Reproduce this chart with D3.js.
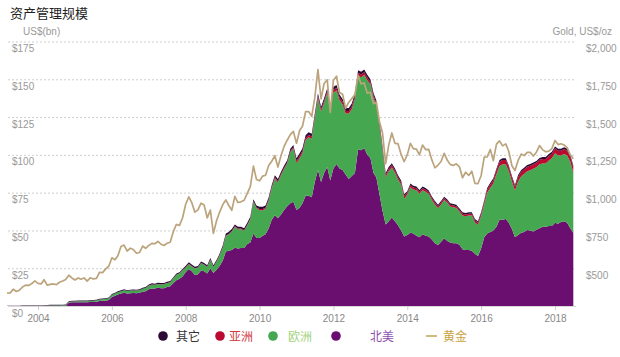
<!DOCTYPE html>
<html><head><meta charset="utf-8">
<script src="https://cdn.jsdelivr.net/npm/d3@7"></script>
<style>body{margin:0;background:#fff;} svg{display:block;font-family:"Liberation Sans",Arial,sans-serif;}</style>
</head><body><svg id="c" width="620" height="357"></svg>
<script>
// Monthly series, Mar 2003 .. Jul 2018 (185 months)
const firstMonth = [2003, 3];
const lastMonth = [2018, 7];

// US$bn, North America
const northAmerica = [
  0,0,0,0,0,0,0,0,0,0,
  0,0,0,0,0,0,0,0,0,0,2.2,2.4,
  2.4,2.5,2.5,2.5,2.4,2.6,2.7,2.8,3.3,3.5,3.5,3.9,
  6.0,6.8,7.6,8.2,8.8,8.3,8.5,8.6,8.5,8.7,9.4,9.8,
  11.0,11.5,11.5,12.0,11.8,11.8,12.5,13.0,15.3,17.0,18.0,19.5,
  22.5,24.5,23.0,20.5,21.0,23.5,23.0,21.5,25.0,21.8,24.0,26.5,
  30,36,36.5,37,38.5,38,38.3,38.3,41,42,48,45,
  45,46.5,47.5,51.4,57,60,58,60.5,63.5,66,68,69,
  63.5,65,67.9,73,73,72,82,90,82,88,92,83,
  91,94,91,90,87,84,86,88,103.5,103,104.5,100,
  98,88,85,74,63,54,56,58.5,56,53.5,50,46,
  47,48.5,48,46.5,45.5,47.5,46.5,46,44,41.5,40.3,42.5,
  44.8,43,42,41.5,41.5,40.5,37.5,37,37,36.5,34.5,33,
  38,45.5,48,49,50,52.5,57,57,57.5,55,51,45.5,
  47,48.5,49,50.3,50,49.3,50.5,51.5,52.5,52.5,53,53,
  55,54.5,55.5,56,55,51.5,48.5
];
// US$bn, Europe
const europe = [
  0,0,0,0,0,0,0,0,0,0,
  0,0,0.1,0.3,0.35,0.4,0.4,0.4,0.45,0.5,0.5,0.55,
  0.6,0.65,0.65,0.7,0.7,0.75,0.8,0.85,0.95,1.0,1.1,1.2,
  1.3,1.4,1.5,1.6,1.7,1.6,1.7,1.7,1.7,1.8,2.0,2.1,
  2.4,2.6,2.4,2.5,2.5,2.6,2.7,2.6,2.9,3.6,3.5,4.0,
  3.0,3.2,3.2,4.3,4.3,4.8,4.3,4.3,5.5,4.0,5.3,6.8,
  8.3,10.3,10.8,12.3,13.8,12.8,12.5,11.5,12.3,15.3,20.9,19.8,
  18.4,16.9,16.7,18.3,20.7,24.2,23.7,26.0,27.2,28.2,33.7,35.2,
  30.9,32.7,33.1,36.7,38.7,38.7,42.1,47.4,46.6,46.1,48.7,45.5,
  50.3,48.5,45.3,43.3,40.3,43.3,44.3,49.0,48.8,48.3,48.3,49.3,
  48.7,49.7,47.7,44.7,40.2,31.2,33.2,33.1,32.2,30.2,30.2,25.2,
  26.6,30.1,29.1,30.1,28.8,29.1,29.1,28.1,26.1,25.6,24.3,24.6,
  25.3,25.3,23.8,23.8,23.3,21.8,22.3,22.3,22.8,23.3,20.8,20.8,
  21.4,21.6,26.9,29.2,31.1,34.9,35.7,36.8,36.3,34.2,31.3,30.9,
  35.4,37.3,38.3,38.8,39.8,41.5,41.3,42.3,41.8,41.8,43.3,44.8,
  46,45,44,44.5,44.5,44,40
];
// US$bn, Asia
const asia = [
  0,0,0,0,0,0,0,0,0,0,
  0,0,0,0,0,0,0,0,0,0,0,0,
  0,0,0,0,0,0,0,0,0,0,0,0,
  0,0,0,0,0,0,0,0,0,0,0,0,
  0.1,0.1,0.1,0.1,0.1,0.1,0.1,0.1,0.1,0.1,0.1,0.1,
  0.2,0.2,0.2,0.2,0.2,0.2,0.2,0.2,0.2,0.2,0.2,0.2,
  0.4,0.4,0.4,0.4,0.4,0.4,0.4,0.4,0.4,0.4,0.4,0.4,
  0.8,0.8,0.8,0.8,0.8,0.8,0.8,0.8,0.8,0.8,0.8,0.8,
  1.5,1.5,1.5,1.5,1.5,1.5,1.5,1.5,1.5,1.5,1.5,1.5,
  1.8,1.8,1.8,1.8,1.8,1.8,1.8,1.8,1.8,1.8,1.8,1.8,
  1.5,1.5,1.5,1.5,1.5,1.5,1.5,1.5,1.5,1.5,1.5,1.5,
  1.3,1.3,1.3,1.3,1.3,1.3,1.3,1.3,1.3,1.3,1.3,1.3,
  1.2,1.2,1.2,1.2,1.2,1.2,1.2,1.2,1.2,1.2,1.2,1.2,
  1.5,1.8,2.0,2.2,2.3,2.5,2.8,2.8,2.8,2.7,2.6,2.5,
  3.0,3.0,3.0,3.0,3.0,3.0,3.0,3.0,3.0,3.0,3.0,3.0,
  3.3,3.3,3.3,3.3,3.3,3.3,3.3
];
// US$bn, Other
const other = [
  0.1,0.15,0.2,0.2,0.2,0.25,0.3,0.3,0.3,0.35,
  0.35,0.35,0.4,0.4,0.4,0.4,0.4,0.4,0.4,0.45,0.45,0.45,
  0.5,0.5,0.5,0.5,0.5,0.5,0.5,0.5,0.5,0.5,0.5,0.5,
  0.6,0.6,0.6,0.6,0.6,0.6,0.6,0.6,0.6,0.6,0.6,0.6,
  0.8,0.8,0.8,0.8,0.8,0.8,0.8,0.8,0.8,0.8,0.8,0.8,
  1.0,1.0,1.0,1.0,1.0,1.0,1.0,1.0,1.0,1.0,1.0,1.0,
  1.3,1.3,1.3,1.3,1.3,1.3,1.3,1.3,1.3,1.3,1.3,1.3,
  1.5,1.5,1.5,1.5,1.5,1.5,1.5,1.5,1.5,1.5,1.5,1.5,
  1.8,1.8,1.8,1.8,1.8,1.8,1.8,1.8,1.8,1.8,1.8,1.8,
  1.9,1.9,1.9,1.9,1.9,1.9,1.9,1.9,1.9,1.9,1.9,1.9,
  1.8,1.8,1.8,1.8,1.3,1.3,1.3,1.3,1.3,1.3,1.3,1.3,
  1.1,1.1,1.1,1.1,1.1,1.1,1.1,1.1,1.1,1.1,1.1,1.1,
  1.0,1.0,1.0,1.0,1.0,1.0,1.0,1.0,1.0,1.0,1.0,1.0,
  1.1,1.1,1.1,1.1,1.1,1.1,1.1,1.1,1.1,1.1,1.1,1.1,
  1.2,1.2,1.2,1.2,1.2,1.2,1.2,1.2,1.2,1.2,1.2,1.2,
  1.2,1.2,1.2,1.2,1.2,1.2,1.2
];
// Gold, US$/oz (month end)
const gold = [
  334.85,336.75,361.4,346,354.75,375.6,388,386.25,398.35,416.25,
  399.75,395.85,423.7,388.5,393.25,395.8,391.4,407.25,415.65,425.55,453.4,435.6,
  422.15,435.45,427.5,435.7,414.45,437.1,429,433.25,473.25,470.75,495.65,513,
  568.75,556,582,644,653,613.5,632.5,623.5,599.25,603.75,646.7,632,
  650.5,664.2,661.75,677,659.1,650.5,665.5,672,743,789.5,783.5,833.75,
  923.25,971.5,933.5,871,885.75,930.25,918,833,884.5,730.75,814.5,869.75,
  919.5,952,916.5,883.25,975.5,934.5,939,949.5,995.75,1040,1175.75,1087.5,
  1078.5,1109.5,1115.5,1179.25,1207.5,1244,1169,1246,1307,1346.75,1383.5,1405.5,
  1327,1411,1439,1535.5,1536.5,1505.5,1628.5,1813.5,1620,1722,1746,1531,
  1744,1770,1662.5,1651.25,1558,1598.5,1622,1648.5,1776,1719,1726,1657.5,
  1664.75,1588.5,1598.25,1469,1394.5,1192,1314.5,1394.75,1326.5,1324,1253,1204.5,
  1251,1326.5,1291.75,1288.5,1250.5,1315,1285.25,1285.75,1216.5,1164.25,1182.75,1206,
  1260.25,1214,1187,1180.25,1190.5,1171,1098.4,1135,1114,1142.35,1061.1,1060.2,
  1111.8,1234.9,1237,1285.65,1212.1,1320.75,1342,1309.25,1322.5,1272,1178.1,1145.9,
  1212.8,1255.6,1244.85,1266.45,1266.2,1242.25,1267.55,1311.75,1283.1,1270.15,1274.25,1291,
  1345.15,1317.85,1323.85,1315.05,1298.35,1250.45,1224
];

const seriesKeys = ["northAmerica","europe","asia","other"];
const seriesColors = {northAmerica:"#6a0f6f", europe:"#45a74f", asia:"#bb0a30", other:"#2b0b35"};
const leftTicks = [0,25,50,75,100,125,150,175];
const leftTickLabels = ["$0","$25","$50","$75","$100","$125","$150","$175"];
const rightTicks = [500,750,1000,1250,1500,1750,2000];
const rightTickLabels = ["$500","$750","$1,000","$1,250","$1,500","$1,750","$2,000"];
const xTickYears = [2004,2006,2008,2010,2012,2014,2016,2018];
const legendItems = [
  {label:"其它", color:"#2b0b35", text:"#333333", cx:163, tx:176, type:"dot"},
  {label:"亚洲", color:"#bb0a30", text:"#d23a3f", cx:220, tx:229, type:"dot"},
  {label:"欧洲", color:"#45a74f", text:"#a3d27e", cx:273, tx:288, type:"dot"},
  {label:"北美", color:"#6a0f6f", text:"#8f52ad", cx:336, tx:370, type:"dot"},
  {label:"黄金", color:"#c2a15a", text:"#c9a23f", cx:431, tx:443, type:"line"}
];

const months = d3.timeMonth.range(new Date(firstMonth[0], firstMonth[1]-1, 1), new Date(lastMonth[0], lastMonth[1], 1));
const rows = months.map((d,i)=>({date:d, northAmerica:northAmerica[i], europe:europe[i], asia:asia[i], other:other[i], gold:gold[i]}));

const svg = d3.select("#c");
const plotL = 8, plotR = 576;
const x = d3.scaleTime().domain([new Date(2004,0,1), new Date(2018,0,1)]).range([38,555]);
const y = d3.scaleLinear().domain([0,175]).range([306,41.5]);
const yg = d3.scaleLinear().domain([250,2000]).range([306,41.5]);

// title
svg.append("text").attr("x",10).attr("y",18).text("资产管理规模")
  .style("font-family","'Noto Sans CJK SC',sans-serif").style("font-size","13px").attr("fill","#222");
svg.append("text").attr("x",23).attr("y",35).text("US$(bn)").attr("fill","#999").style("font-size","10px");
svg.append("text").attr("x",612).attr("y",35).attr("text-anchor","end").text("Gold, US$/oz").attr("fill","#999").style("font-size","10px");

// gridlines
svg.append("g").selectAll("line").data(leftTicks.filter(v=>v>0)).join("line")
  .attr("x1",plotL).attr("x2",plotR).attr("y1",d=>y(d)+0.5).attr("y2",d=>y(d)+0.5)
  .attr("stroke","#cfcfcf").attr("stroke-dasharray","2,2").attr("stroke-width",1);

// stacked areas
const stack = d3.stack().keys(seriesKeys);
const layers = stack(rows);
const area = d3.area().x(d=>x(d.data.date)).y0(d=>y(d[0])).y1(d=>y(d[1]));
svg.append("g").selectAll("path").data(layers).join("path")
  .attr("d",area).attr("fill",d=>seriesColors[d.key]);

// gold line
const line = d3.line().x(d=>x(d.date)).y(d=>yg(d.gold));
svg.append("path").datum(rows).attr("d",line).attr("fill","none")
  .attr("stroke","#bba47c").attr("stroke-width",1.7).attr("stroke-linejoin","round");

// baseline + x ticks
svg.append("line").attr("x1",plotL).attr("x2",plotR).attr("y1",306.5).attr("y2",306.5).attr("stroke","#d8d8d8");
const xAxis = d3.axisBottom(x).tickValues(xTickYears.map(yv=>new Date(yv,0,1))).tickFormat(d3.timeFormat("%Y")).tickSize(4).tickSizeOuter(0);
const gx = svg.append("g").attr("transform","translate(0,306)").call(xAxis);
gx.select(".domain").remove();
gx.selectAll("line").attr("stroke","#ccc");
gx.selectAll("text").attr("fill","#888").style("font-size","10px").style("font-family","'Liberation Sans',Arial,sans-serif").attr("dy","0.9em");

// left labels
svg.append("g").selectAll("text").data(leftTicks).join("text")
  .attr("x",12).attr("y",d=>y(d)+10.5).text((d,i)=>leftTickLabels[i]).attr("fill","#999").style("font-size","10px");
// right labels
svg.append("g").selectAll("text").data(rightTicks).join("text")
  .attr("x",586).attr("y",d=>yg(d)+10.5).text((d,i)=>rightTickLabels[i]).attr("fill","#999").style("font-size","10px");

// legend
const lg = svg.append("g");
legendItems.forEach(it=>{
  if(it.type==="dot"){
    lg.append("circle").attr("cx",it.cx).attr("cy",336).attr("r",4.8).attr("fill",it.color);
  } else {
    lg.append("line").attr("x1",it.cx-5).attr("x2",it.cx+6).attr("y1",336).attr("y2",336).attr("stroke",it.color).attr("stroke-width",1.5);
  }
  lg.append("text").attr("x",it.tx).attr("y",340.5).text(it.label).attr("fill",it.text)
    .style("font-family","'Noto Sans CJK SC',sans-serif").style("font-size","12px");
});
</script></body></html>
